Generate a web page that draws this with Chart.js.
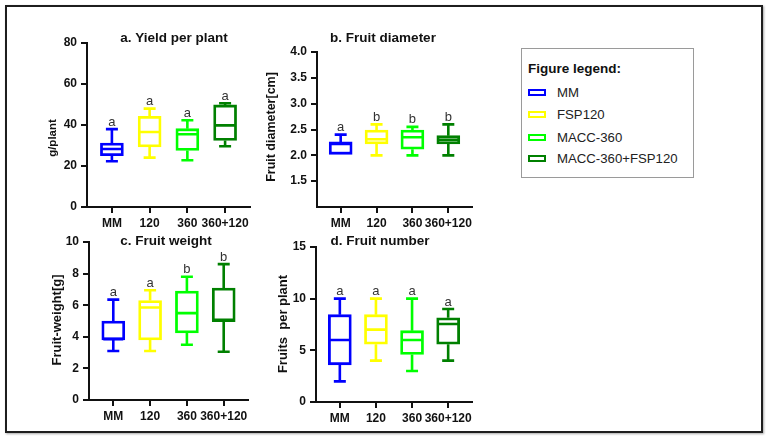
<!DOCTYPE html>
<html>
<head>
<meta charset="utf-8">
<script src="https://cdn.jsdelivr.net/npm/chart.js@4.4.1/dist/chart.umd.min.js"></script>
<style>
  html, body { margin: 0; padding: 0; background: #fff; }
  #page { position: relative; width: 767px; height: 437px; overflow: hidden; font-family: Arial, "Liberation Sans", sans-serif; }
  #frame { position: absolute; left: 5px; top: 5px; width: 758px; height: 428px; box-sizing: border-box; border: 2px solid #1e1e1e; box-shadow: 1px 1px 2px rgba(0,0,0,0.35); }
  canvas { position: absolute; }
  #legend { position: absolute; left: 521px; top: 48px; width: 173px; height: 130px; box-sizing: border-box; border: 1px solid #9a9a9a; }
  #legend .lg-title { position: absolute; left: 6px; top: 12px; font-weight: bold; font-size: 13.5px; color: #111; }
  #legend .lg-row { position: absolute; left: 6px; height: 16px; font-size: 13.2px; color: #222; white-space: nowrap; }
  #legend .sw { position: absolute; left: 0; top: 4px; width: 18px; height: 7px; box-sizing: border-box; border: 2px solid; background: #fff; }
  #legend .lg-row span.txt { position: absolute; left: 29px; top: 0; line-height: 16px; }
</style>
</head>
<body>
<div id="page">
  <div id="frame"></div>
  <canvas id="chartYield" width="230" height="210" style="left:36px; top:25px;"></canvas>
  <canvas id="chartDiameter" width="232" height="210" style="left:255px; top:25px;"></canvas>
  <canvas id="chartWeight" width="225" height="210" style="left:40px; top:225px;"></canvas>
  <canvas id="chartNumber" width="225" height="210" style="left:262px; top:225px;"></canvas>
  <div id="legend"><div class="lg-title">Figure legend:</div></div>
</div>
<script>
// groups on the x axis and the matching legend names
const groups = ['MM', '120', '360', '360+120'];
const seriesNames = ['MM', 'FSP120', 'MACC-360', 'MACC-360+FSP120'];
const seriesColors = ['#0000ff', '#ffff00', '#00ff00', '#008000'];

// a. Yield per plant (g/plant)
const yieldMin = [22.3, 24.1, 22.8, 29.6];
const yieldQ1 = [25, 29.3, 27.6, 32.5];
const yieldMedian = [28.3, 36.6, 35.5, 39.8];
const yieldQ3 = [31.2, 44.2, 38.2, 49.8];
const yieldMax = [38, 48, 42.3, 50.6];
const yieldLetters = ['a', 'a', 'a', 'a'];

// b. Fruit diameter (cm)
const diameterMin = [2.02, 2.0, 2.0, 2.0];
const diameterQ1 = [2.02, 2.22, 2.12, 2.22];
const diameterMedian = [2.22, 2.31, 2.35, 2.3];
const diameterQ3 = [2.26, 2.49, 2.49, 2.38];
const diameterMax = [2.4, 2.6, 2.55, 2.6];
const diameterLetters = ['a', 'b', 'b', 'b'];

// c. Fruit weight (g)
const weightMin = [3.1, 3.1, 3.5, 3.05];
const weightQ1 = [3.8, 3.8, 4.25, 4.95];
const weightMedian = [3.85, 5.85, 5.5, 5.08];
const weightQ3 = [5.0, 6.3, 6.9, 7.08];
const weightMax = [6.35, 6.95, 7.8, 8.6];
const weightLetters = ['a', 'a', 'b', 'b'];

// d. Fruit number (per plant)
const numberMin = [2, 4, 3, 4];
const numberQ1 = [3.6, 5.6, 4.6, 5.6];
const numberMedian = [6, 7, 6, 7.55];
const numberQ3 = [8.45, 8.45, 6.9, 8.15];
const numberMax = [10, 10, 10, 9];
const numberLetters = ['a', 'a', 'a', 'a'];

const ink = '#111';
const fontFamily = 'Arial, "Liberation Sans", sans-serif';

// whiskers, medians and letters on top of the floating bars
const boxPlot = {
    id: 'boxPlot',
    afterDatasetsDraw(chart) {
        const ctx = chart.ctx;
        const ds = chart.data.datasets[0];
        const meta = chart.getDatasetMeta(0);
        const y = chart.scales.y;
        ctx.save();
        meta.data.forEach((bar, i) => {
            const st = ds.stats;
            const x = bar.x;
            const half = bar.width / 2;
            const pMin = y.getPixelForValue(st.min[i]);
            const pQ1 = y.getPixelForValue(ds.data[i].y[0]);
            const pQ3 = y.getPixelForValue(ds.data[i].y[1]);
            const pMed = y.getPixelForValue(st.median[i]);
            const pMax = y.getPixelForValue(st.max[i]);
            ctx.strokeStyle = seriesColors[i];
            ctx.lineWidth = 2.6;
            ctx.lineCap = 'butt';
            ctx.beginPath();
            // median
            ctx.moveTo(x - half + 1.5, pMed);
            ctx.lineTo(x + half - 1.5, pMed);
            // upper whisker + cap
            if (pMax < pQ3 - 1) {
                ctx.moveTo(x, pQ3);
                ctx.lineTo(x, pMax);
                ctx.moveTo(x - 6, pMax);
                ctx.lineTo(x + 6, pMax);
            }
            // lower whisker + cap
            if (pMin > pQ1 + 1) {
                ctx.moveTo(x, pQ1);
                ctx.lineTo(x, pMin);
                ctx.moveTo(x - 6, pMin);
                ctx.lineTo(x + 6, pMin);
            }
            ctx.stroke();
            ctx.fillStyle = '#333';
            ctx.font = '13px ' + fontFamily;
            ctx.textAlign = 'center';
            ctx.textBaseline = 'alphabetic';
            ctx.fillText(st.letters[i], x, Math.min(pMax, pQ3) - 3.5);
        });
        ctx.restore();
    }
};

// panel title and rotated y-axis title, placed in page coordinates
const panelText = {
    id: 'panelText',
    afterDraw(chart, args, opts) {
        const ctx = chart.ctx;
        ctx.save();
        ctx.fillStyle = ink;
        ctx.textAlign = 'center';
        ctx.textBaseline = 'middle';
        ctx.font = 'bold 13.5px ' + fontFamily;
        ctx.fillText(opts.title, opts.titleX - opts.left, opts.titleY - opts.top);
        ctx.translate(opts.axisX - opts.left, opts.axisY - opts.top);
        ctx.rotate(-Math.PI / 2);
        ctx.font = 'bold ' + opts.axisSize + 'px ' + fontFamily;
        ctx.fillText(opts.axisTitle, 0, 0);
        ctx.restore();
    }
};

function makePanel(id, p) {
    const tickFont = { family: fontFamily, size: 12, weight: 'bold' };
    new Chart(document.getElementById(id), {
        type: 'bar',
        data: {
            datasets: [{
                data: groups.map((g, i) => ({ x: i, y: [p.q1[i], p.q3[i]] })),
                stats: { min: p.min, median: p.median, max: p.max, letters: p.letters },
                backgroundColor: '#ffffff',
                borderColor: seriesColors,
                borderWidth: 2.8,
                borderSkipped: false,
                barThickness: 23
            }]
        },
        options: {
            responsive: false,
            animation: false,
            events: [],
            layout: { padding: p.padding },
            plugins: {
                legend: { display: false },
                tooltip: { enabled: false },
                panelText: p.text
            },
            scales: {
                x: {
                    type: 'linear',
                    offset: false,
                    min: -0.66,
                    max: 3.66,
                    afterBuildTicks: s => { s.ticks = groups.map((g, i) => ({ value: i })); },
                    afterFit: s => { s.height = 22; },
                    ticks: { callback: v => groups[v], font: tickFont, color: ink, padding: 3, maxRotation: 0, autoSkip: false },
                    grid: { drawOnChartArea: false, offset: false, tickLength: 6, lineWidth: 2, color: ink },
                    border: { display: true, width: 2, color: ink }
                },
                y: {
                    min: p.yMin,
                    max: p.yMax,
                    afterFit: s => { s.width = p.yWidth; },
                    ticks: {
                        stepSize: p.step,
                        font: tickFont,
                        color: ink,
                        padding: 4,
                        callback: v => (v === p.hideTick ? '' : (p.decimals ? v.toFixed(p.decimals) : v))
                    },
                    grid: {
                        drawOnChartArea: false,
                        tickLength: 6,
                        lineWidth: 2,
                        color: ink,
                        tickColor: c => (c.tick && c.tick.value === p.hideTick ? 'rgba(0,0,0,0)' : ink)
                    },
                    border: { display: true, width: 2, color: ink }
                }
            }
        },
        plugins: [boxPlot, panelText]
    });
}

makePanel('chartYield', {
    min: yieldMin, q1: yieldQ1, median: yieldMedian, q3: yieldQ3, max: yieldMax, letters: yieldLetters,
    yMin: 0, yMax: 80, step: 20, yWidth: 51,
    padding: { left: 0, top: 18, right: 16, bottom: 6 },
    text: { left: 36, top: 25, title: 'a. Yield per plant', titleX: 174, titleY: 38,
            axisTitle: 'g/plant', axisX: 53, axisY: 138, axisSize: 11.5 }
});

makePanel('chartDiameter', {
    min: diameterMin, q1: diameterQ1, median: diameterMedian, q3: diameterQ3, max: diameterMax, letters: diameterLetters,
    yMin: 1.0, yMax: 4.0, step: 0.5, yWidth: 62, decimals: 1, hideTick: 1,
    padding: { left: 0, top: 27, right: 15, bottom: 6 },
    text: { left: 255, top: 25, title: 'b. Fruit diameter', titleX: 383, titleY: 38,
            axisTitle: 'Fruit diameter[cm]', axisX: 272, axisY: 127, axisSize: 12.5 }
});

makePanel('chartWeight', {
    min: weightMin, q1: weightQ1, median: weightMedian, q3: weightQ3, max: weightMax, letters: weightLetters,
    yMin: 0, yMax: 10, step: 2, yWidth: 49,
    padding: { left: 0, top: 17, right: 17, bottom: 13 },
    text: { left: 40, top: 225, title: 'c. Fruit weight', titleX: 166, titleY: 241,
            axisTitle: 'Fruit-weight[g]', axisX: 57, axisY: 320, axisSize: 13 }
});

makePanel('chartNumber', {
    min: numberMin, q1: numberQ1, median: numberMedian, q3: numberQ3, max: numberMax, letters: numberLetters,
    yMin: 0, yMax: 15, step: 5, yWidth: 54,
    padding: { left: 0, top: 22, right: 15, bottom: 11 },
    text: { left: 262, top: 225, title: 'd. Fruit number', titleX: 380, titleY: 241,
            axisTitle: 'Fruits  per plant', axisX: 283, axisY: 324, axisSize: 13 }
});

// legend box built from the series names and colours
const legend = document.getElementById('legend');
const rowTops = [36, 57.5, 80.5, 102];
seriesNames.forEach((name, i) => {
    const row = document.createElement('div');
    row.className = 'lg-row';
    row.style.top = rowTops[i] + 'px';
    row.innerHTML = '<span class="sw" style="border-color:' + seriesColors[i] + '"></span><span class="txt"></span>';
    row.querySelector('.txt').textContent = name;
    legend.appendChild(row);
});
</script>
</body>
</html>
